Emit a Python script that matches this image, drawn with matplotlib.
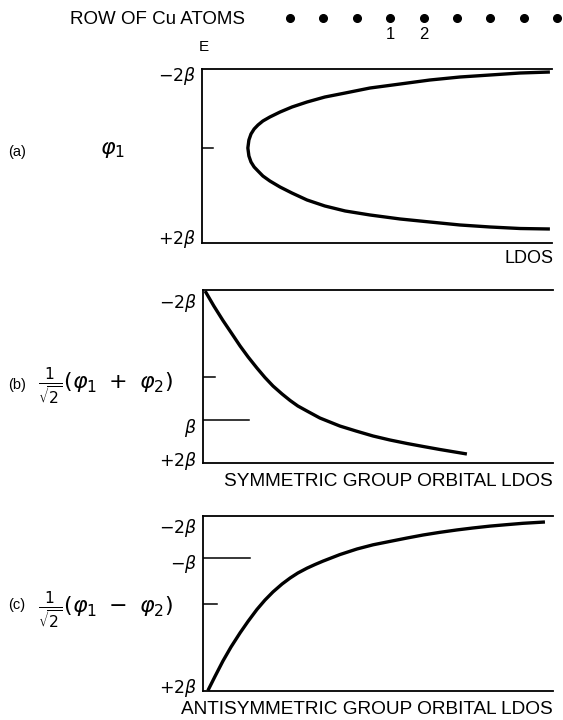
import matplotlib.pyplot as plt

plt.rcParams['font.family'] = ['Liberation Sans', 'DejaVu Sans']
plt.rcParams['mathtext.fontset'] = 'dejavusans'

# row of Cu atoms shown along the top
atom_x = [0, 1, 2, 3, 4, 5, 6, 7, 8]
atom_names = {3: '1', 4: '2'}

# (a) LDOS on one atom; E in units of beta, -2beta at the top
ldos_a = [0.994, 0.909, 0.823, 0.737, 0.651, 0.566, 0.480, 0.409, 0.351, 0.300,
          0.257, 0.223, 0.194, 0.174, 0.160, 0.149, 0.140, 0.134, 0.131,
          0.134, 0.140, 0.149, 0.160, 0.174, 0.194, 0.223, 0.257, 0.300,
          0.351, 0.409, 0.480, 0.566, 0.651, 0.737, 0.823, 0.909, 0.994]
e_a = [-1.931, -1.908, -1.862, -1.816, -1.747, -1.655, -1.563, -1.448, -1.356, -1.241,
       -1.126, -1.011, -0.897, -0.805, -0.713, -0.621, -0.506, -0.368, -0.184,
       0.000, 0.138, 0.253, 0.345, 0.460, 0.575, 0.713, 0.851, 1.011,
       1.149, 1.264, 1.356, 1.448, 1.517, 1.586, 1.632, 1.667, 1.678]

# (b) symmetric group orbital
ldos_b = [0.006, 0.031, 0.057, 0.083, 0.106, 0.129, 0.154, 0.177, 0.200, 0.226,
          0.249, 0.271, 0.297, 0.334, 0.391, 0.437, 0.486, 0.534, 0.583, 0.629,
          0.677, 0.720, 0.754]
e_b = [-1.977, -1.630, -1.295, -0.983, -0.705, -0.451, -0.197, 0.023, 0.220, 0.405,
       0.555, 0.682, 0.798, 0.960, 1.145, 1.260, 1.376, 1.468, 1.549, 1.618,
       1.688, 1.746, 1.792]

# (c) antisymmetric group orbital
ldos_c = [0.014, 0.034, 0.057, 0.080, 0.106, 0.129, 0.154, 0.177, 0.200, 0.226,
          0.249, 0.271, 0.297, 0.320, 0.343, 0.391, 0.440, 0.486, 0.534, 0.583,
          0.629, 0.677, 0.726, 0.771, 0.820, 0.869, 0.914, 0.977]
e_c = [1.990, 1.671, 1.314, 0.994, 0.670, 0.405, 0.137, -0.078, -0.265, -0.446,
       -0.583, -0.697, -0.807, -0.891, -0.969, -1.118, -1.246, -1.342, -1.419, -1.497,
       -1.566, -1.627, -1.682, -1.726, -1.769, -1.803, -1.833, -1.863]

# energy marks on each axis: (value, tick length in LDOS units)
marks_a = [(-0.18, 0.03)]
marks_b = [(0.0, 0.035), (1.0, 0.13)]
marks_c = [(0.0, 0.04), (-1.05, 0.135)]

# axis labels: (text, E position)
labels_a = [(r'$-2\beta$', -1.84), (r'$+2\beta$', 1.91)]
labels_b = [(r'$-2\beta$', -1.70), (r'$\beta$', 1.20), (r'$+2\beta$', 1.95)]
labels_c = [(r'$-2\beta$', -1.73), (r'$-\beta$', -0.90), (r'$+2\beta$', 1.93)]

W, H = 563, 720


def fx(px):
    return px / W


def fy(py):
    return 1 - py / H


fig = plt.figure(figsize=(W / 100, H / 100), dpi=100)


def panel(left, top, bottom, x, y, marks, labels):
    ax = fig.add_axes([fx(left), fy(bottom), 350 / W, (bottom - top) / H])
    ax.set_xlim(0, 1)
    ax.set_ylim(2, -2)
    ax.set_xticks([])
    ax.set_yticks([])
    ax.spines['right'].set_visible(False)
    for s in ['left', 'top', 'bottom']:
        ax.spines[s].set_linewidth(1.3)
    ax.plot(x, y, color='black', lw=2.4, solid_capstyle='butt',
            solid_joinstyle='round', clip_on=False)
    for val, length in marks:
        ax.plot([0, length], [val, val], color='black', lw=1.1)
    for txt, val in labels:
        ax.text(-0.018, val, txt, ha='right', va='center', fontsize=12.5)
    return ax


panel(202, 69, 243, ldos_a, e_a, marks_a, labels_a)
panel(203, 290, 463, ldos_b, e_b, marks_b, labels_b)
panel(203, 516, 691, ldos_c, e_c, marks_c, labels_c)

# atom row
ax0 = fig.add_axes([fx(290), fy(28), (557 - 290) / W, 20 / H])
ax0.set_xlim(0, 8)
ax0.set_ylim(-1, 1)
ax0.axis('off')
ax0.plot(atom_x, [0] * len(atom_x), 'o', color='black', ms=5.5, clip_on=False)
for i, name in atom_names.items():
    ax0.annotate(name, (atom_x[i], 0), xytext=(0, -12), textcoords='offset points',
                 ha='center', va='center', fontsize=12)

fig.text(fx(158), fy(19), 'ROW OF Cu ATOMS', ha='center', va='center', fontsize=13.5)
fig.text(fx(204), fy(47), 'E', ha='center', va='center', fontsize=11)

# panel captions
fig.text(fx(8), fy(152), '(a)', ha='left', va='center', fontsize=10.5)
fig.text(fx(100), fy(150), r'$\varphi_1$', ha='left', va='center', fontsize=16)
fig.text(fx(8), fy(385), '(b)', ha='left', va='center', fontsize=10.5)
fig.text(fx(38), fy(386), r'$\frac{1}{\sqrt{2}}(\varphi_1\ +\ \varphi_2)$',
         ha='left', va='center', fontsize=16)
fig.text(fx(8), fy(605), '(c)', ha='left', va='center', fontsize=10.5)
fig.text(fx(38), fy(610), r'$\frac{1}{\sqrt{2}}(\varphi_1\ -\ \varphi_2)$',
         ha='left', va='center', fontsize=16)

# x labels
fig.text(fx(553), fy(258), 'LDOS', ha='right', va='center', fontsize=13)
fig.text(fx(553), fy(482), 'SYMMETRIC GROUP ORBITAL LDOS', ha='right', va='center', fontsize=13.7)
fig.text(fx(553), fy(710), 'ANTISYMMETRIC GROUP ORBITAL LDOS', ha='right', va='center', fontsize=13.7)

fig.savefig('out.png', dpi=100)
